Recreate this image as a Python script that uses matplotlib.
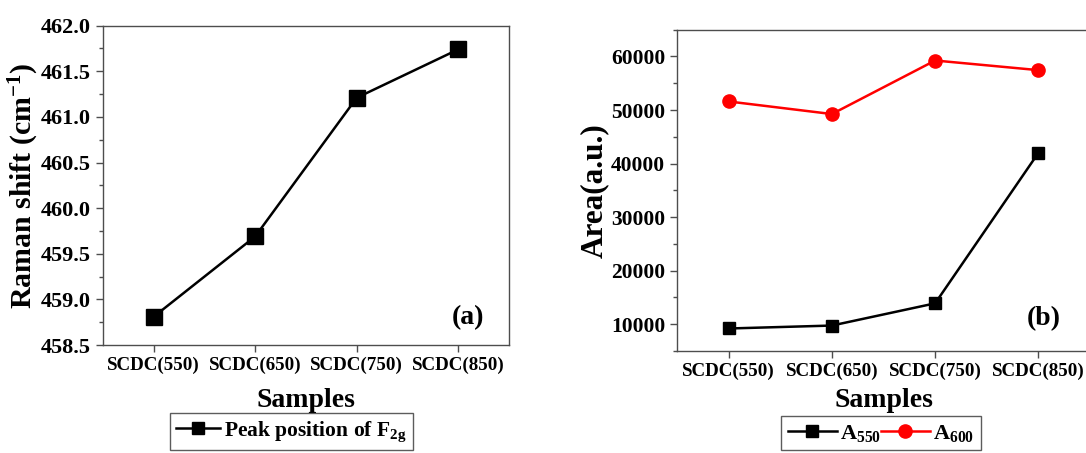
import numpy as np
import matplotlib
matplotlib.use("Agg")
import matplotlib.pyplot as plt
from matplotlib.ticker import AutoMinorLocator, FormatStrFormatter

plt.rcParams['font.family'] = ['Liberation Serif', 'DejaVu Serif']
plt.rcParams['font.weight'] = 'bold'
plt.rcParams['mathtext.fontset'] = 'custom'
plt.rcParams['mathtext.rm'] = 'Liberation Serif:bold'
plt.rcParams['mathtext.bf'] = 'Liberation Serif:bold'
plt.rcParams['mathtext.it'] = 'Liberation Serif:bold:italic'
plt.rcParams['mathtext.default'] = 'rm'

samples = ['SCDC(550)', 'SCDC(650)', 'SCDC(750)', 'SCDC(850)']
peak_f2g = [458.81, 459.69, 461.21, 461.74]
area_550 = [9200, 9750, 13900, 42000]
area_600 = [51600, 49250, 59250, 57450]

spine_col = '#4d4d4d'

fig = plt.figure(figsize=(10.86, 4.53), dpi=100)
ax1 = fig.add_axes([0.0948, 0.2384, 0.3739, 0.7049])
ax2 = fig.add_axes([0.6234, 0.2252, 0.3803, 0.7092])

x = np.arange(len(samples))

def style(ax):
    for s in ax.spines.values():
        s.set_color(spine_col)
        s.set_linewidth(1.0)
    ax.tick_params(axis='both', which='both', direction='out', color=spine_col)
    ax.tick_params(axis='both', which='major', length=5, width=1)
    ax.tick_params(axis='y', which='minor', length=3, width=1)
    ax.set_xticks(x)
    ax.set_xticklabels(samples, fontsize=13.7, fontweight='bold')
    ax.set_xlim(-0.5, 3.5)
    ax.yaxis.set_minor_locator(AutoMinorLocator(2))
    for lab in ax.get_yticklabels():
        lab.set_fontweight('bold')

# panel (a)
ax1.plot(x, peak_f2g, color='black', lw=1.8, marker='s', ms=11.5,
         label=r'Peak position of F$_{2g}$')
ax1.set_ylim(458.5, 462.0)
ax1.set_yticks(np.arange(458.5, 462.01, 0.5))
ax1.yaxis.set_major_formatter(FormatStrFormatter('%.1f'))
style(ax1)
ax1.tick_params(axis='y', labelsize=16)
ax1.set_ylabel(r'Raman shift (cm$^{-1}$)', fontsize=21.5, fontweight='bold', labelpad=0)
ax1.set_xlabel('Samples', fontsize=20, fontweight='bold', labelpad=10)
ax1.text(0.94, 0.085, '(a)', transform=ax1.transAxes, fontsize=20,
         fontweight='bold', ha='right', va='center')
leg1 = fig.legend(*ax1.get_legend_handles_labels(), loc='upper left',
                  bbox_to_anchor=(170 / 1086, 1 - 413 / 453), fontsize=15.5,
                  frameon=True, fancybox=False, edgecolor='#333333',
                  handlelength=2.0, handletextpad=0.2, borderpad=0.3,
                  borderaxespad=0, markerscale=0.72)
leg1.get_frame().set_linewidth(1.0)

# panel (b)
ax2.plot(x, area_550, color='black', lw=1.8, marker='s', ms=8.5,
         label=r'A$_{550}$')
ax2.plot(x, area_600, color='#ff0000', lw=1.8, marker='o', ms=9.5,
         label=r'A$_{600}$')
ax2.set_ylim(5000, 65000)
ax2.set_yticks(np.arange(10000, 60001, 10000))
style(ax2)
ax2.tick_params(axis='y', labelsize=15.5)
ax2.set_ylabel('Area(a.u.)', fontsize=22.5, fontweight='bold', labelpad=1.5)
ax2.set_xlabel('Samples', fontsize=20, fontweight='bold', labelpad=6)
ax2.text(3.05, 11000, '(b)', fontsize=20, fontweight='bold',
         ha='center', va='center')
leg2 = fig.legend(*ax2.get_legend_handles_labels(), loc='upper left',
                  bbox_to_anchor=(781 / 1086, 1 - 416 / 453), fontsize=16,
                  ncol=2, frameon=True, fancybox=False, edgecolor='#333333',
                  handlelength=2.2, handletextpad=0.15, columnspacing=0.0,
                  borderpad=0.3, borderaxespad=0)
leg2.get_frame().set_linewidth(1.0)

fig.savefig('out.png', dpi=100)
